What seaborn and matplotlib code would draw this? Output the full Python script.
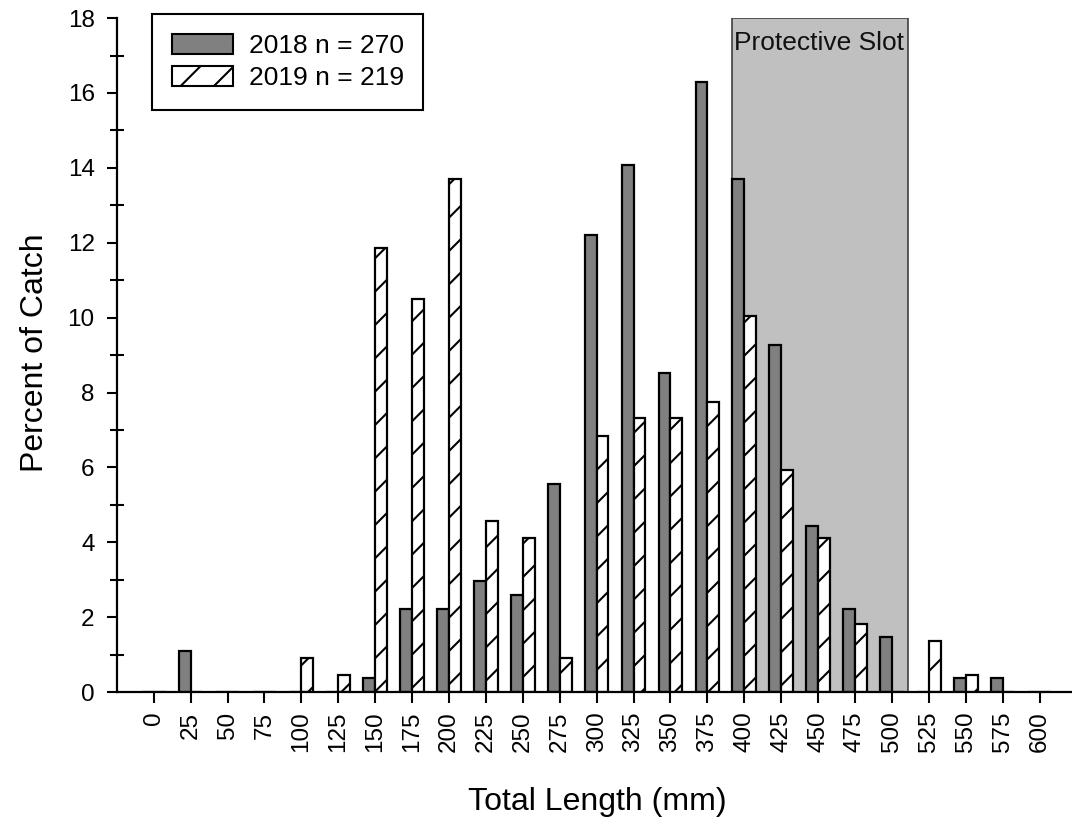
import numpy as np
import pandas as pd
import matplotlib
matplotlib.use("Agg")
import matplotlib.pyplot as plt
import seaborn as sns
from matplotlib.patches import Patch
from matplotlib.ticker import MultipleLocator

# ─────────────────────────────────────────────
# Data (percent of catch per 25 mm length group)
# ─────────────────────────────────────────────
lengths  = list(range(0, 625, 25))
pct_2018 = [0, 1.11, 0, 0, 0, 0, 0.37, 2.22, 2.22, 2.96, 2.59, 5.56, 12.22,
            14.07, 8.52, 16.30, 13.70, 9.26, 4.44, 2.22, 1.48, 0, 0.37, 0.37, 0]
pct_2019 = [0, 0, 0, 0, 0.91, 0.46, 11.87, 10.50, 13.70, 4.57, 4.11, 0.91, 6.85,
            7.31, 7.31, 7.76, 10.05, 5.94, 4.11, 1.83, 0, 1.37, 0.46, 0, 0]
years    = ["2018", "2019"]
labels   = ["2018 n = 270", "2019 n = 219"]
slot     = (392, 511)   # protective slot, mm

df = pd.DataFrame({
    "length": lengths * 2,
    "pct":    pct_2018 + pct_2019,
    "year":   [years[0]] * len(lengths) + [years[1]] * len(lengths),
})

sns.set_style("ticks")
plt.rcParams["font.family"] = ["Liberation Sans", "DejaVu Sans"]
plt.rcParams["hatch.linewidth"] = 1.5
plt.rcParams["text.color"] = "black"
plt.rcParams["xtick.color"] = "black"
plt.rcParams["ytick.color"] = "black"

fig = plt.figure(figsize=(10.72, 8.23), dpi=100)
ax  = fig.add_axes([0.109, 0.159, 0.891, 0.819])

# shaded slot behind the bars
ax.axvspan(*slot, facecolor="#c0c0c0", edgecolor="#404040", lw=1.2, zorder=0.5)
ax.text(slot[0] + 1, 17.65, "Protective Slot", ha="left", va="top", fontsize=19, color="#111111")

sns.barplot(data=df, x="length", y="pct", hue="year", hue_order=years,
            palette={"2018": "#808080", "2019": "white"}, native_scale=True,
            width=0.64, dodge=True, edgecolor="black", linewidth=1.6,
            legend=False, ax=ax, zorder=2)

for bar in ax.containers[1]:
    bar.set_hatch("/")

ax.set_xlim(-25, 622)
ax.set_ylim(0, 18)
ax.set_xticks(lengths)
ax.set_xticklabels([str(l) for l in lengths], rotation=90, fontsize=17.5)
ax.yaxis.set_major_locator(MultipleLocator(2))
ax.yaxis.set_minor_locator(MultipleLocator(1))
ax.tick_params(axis="y", labelsize=17.5)
ax.tick_params(axis="x", direction="out", length=8, width=1.5, pad=6)
ax.tick_params(axis="y", which="major", direction="out", length=7, width=1.5, pad=9)
ax.tick_params(axis="y", which="minor", direction="inout", length=10, width=1.5)
ax.set_xlabel(""); ax.set_ylabel("")
sns.despine(ax=ax)
for s in ["left", "bottom"]:
    ax.spines[s].set_linewidth(1.6)
    ax.spines[s].set_color("black")

fig.text(0.033, 0.572, "Percent of Catch", rotation=90, ha="center", va="center", fontsize=23)
fig.text(0.557, 0.026, "Total Length (mm)", ha="center", va="center", fontsize=23)

handles = [
    Patch(facecolor="#808080", edgecolor="black", lw=1.5, label=labels[0]),
    Patch(facecolor="white", edgecolor="black", lw=1.5, hatch="/", label=labels[1]),
]
leg = fig.legend(handles=handles, loc="upper left", bbox_to_anchor=(0.142, 0.983),
                 fontsize=19, fancybox=False, framealpha=1, edgecolor="black",
                 borderpad=0.75, labelspacing=0.3, handlelength=2.3,
                 handleheight=0.8, handletextpad=0.6, borderaxespad=0)
leg.get_frame().set_linewidth(1.5)

plt.savefig("out.png", dpi=100)
